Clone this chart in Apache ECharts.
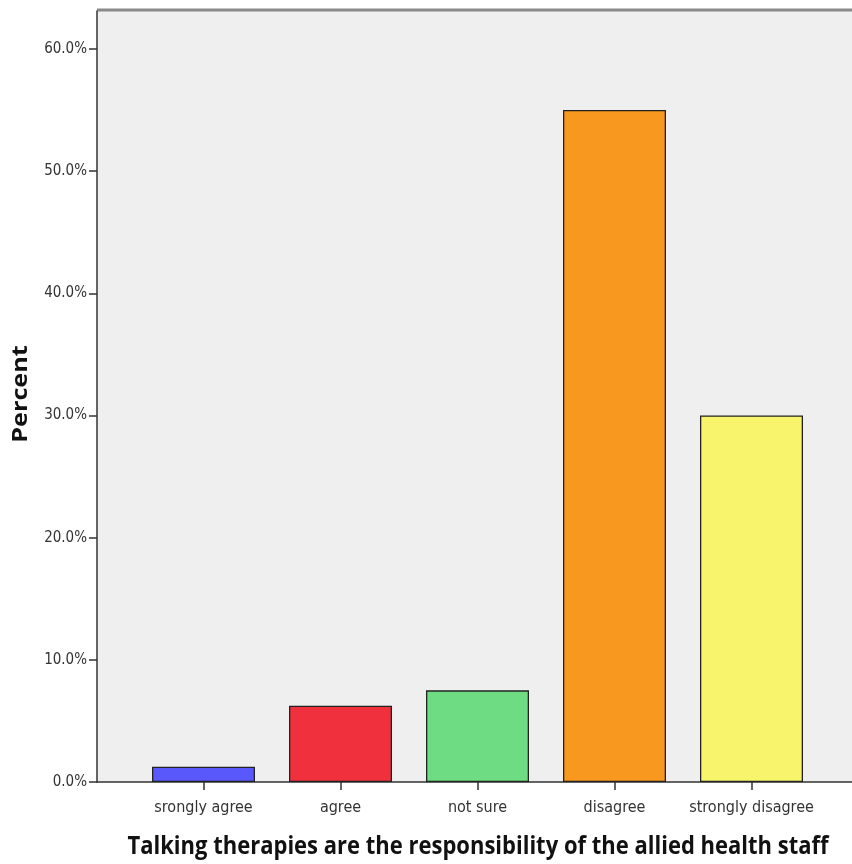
<!DOCTYPE html>
<html><head><meta charset="utf-8">
<script src="https://cdn.jsdelivr.net/npm/echarts@6/dist/echarts.min.js"></script>
<style>html,body{margin:0;padding:0;background:#fff}#c{width:852px;height:864px}</style>
</head><body><div id="c"></div>
<script>
const categories = ['srongly agree', 'agree', 'not sure', 'disagree', 'strongly disagree'];
const percentValues = [1.25, 6.25, 7.5, 55.0, 30.0];
const barColors = ['#5858fb', '#f0313d', '#6ddc82', '#f8981f', '#f8f56d'];
const yTickValues = [0, 10, 20, 30, 40, 50, 60];
const yMax = 63.1;
const xTitle = 'Talking therapies are the responsibility of the allied health staff';
const yTitle = 'Percent';

const chart = echarts.init(document.getElementById('c'), null, {renderer: 'canvas'});
const labelFont = '"Liberation Sans Narrow", "DejaVu Sans Condensed", sans-serif';
chart.setOption({
  animation: false,
  grid: [
    {left: 97, right: 0, top: 11, bottom: 82, show: true, backgroundColor: '#efefef', borderWidth: 0},
    {left: 135, right: 32, top: 11, bottom: 82}
  ],
  xAxis: [
    {gridIndex: 0, type: 'value', min: 0, max: 1, axisLine: {show: true, lineStyle: {color: '#333', width: 1.5}},
     axisTick: {show: false}, axisLabel: {show: false}, splitLine: {show: false}},
    {gridIndex: 1, type: 'category', data: categories, axisLine: {show: false},
     axisTick: {show: true, alignWithLabel: true, length: 8, lineStyle: {color: '#333', width: 1.5}},
     axisLabel: {interval: 0, color: '#333', fontFamily: labelFont, fontSize: 16, margin: 18}}
  ],
  yAxis: [
    {gridIndex: 0, type: 'value', min: 0, max: yMax,
     axisLine: {show: true, lineStyle: {color: '#333', width: 1.5}},
     axisTick: {show: true, length: 8, customValues: yTickValues, lineStyle: {color: '#333', width: 1.5}},
     axisLabel: {customValues: yTickValues, formatter: v => v.toFixed(1) + '%', color: '#333', fontFamily: labelFont, fontSize: 15, margin: 10, padding: [4, 0, 0, 0]},
     splitLine: {show: false}},
    {gridIndex: 1, type: 'value', min: 0, max: yMax, show: false}
  ],
  series: [{
    type: 'bar', xAxisIndex: 1, yAxisIndex: 1, barWidth: 103,
    data: percentValues.map((v, i) => ({value: v, itemStyle: {color: barColors[i]}})),
    itemStyle: {borderColor: '#222', borderWidth: 1.3}
  }],
  graphic: [
    {type: 'line', shape: {x1: 97, y1: 10, x2: 852, y2: 10}, style: {stroke: '#8a8a8a', lineWidth: 3}},
    {type: 'text', x: 478, y: 847, scaleY: 1.15, style: {text: xTitle, font: 'bold 22px "Open Sans", sans-serif', fill: '#111', align: 'center', verticalAlign: 'middle'}},
    {type: 'text', x: 21, y: 394, rotation: Math.PI / 2, scaleX: 1.2, style: {text: yTitle, font: 'bold 21px "Open Sans", sans-serif', fill: '#111', align: 'center', verticalAlign: 'middle'}}
  ]
});
</script></body></html>
